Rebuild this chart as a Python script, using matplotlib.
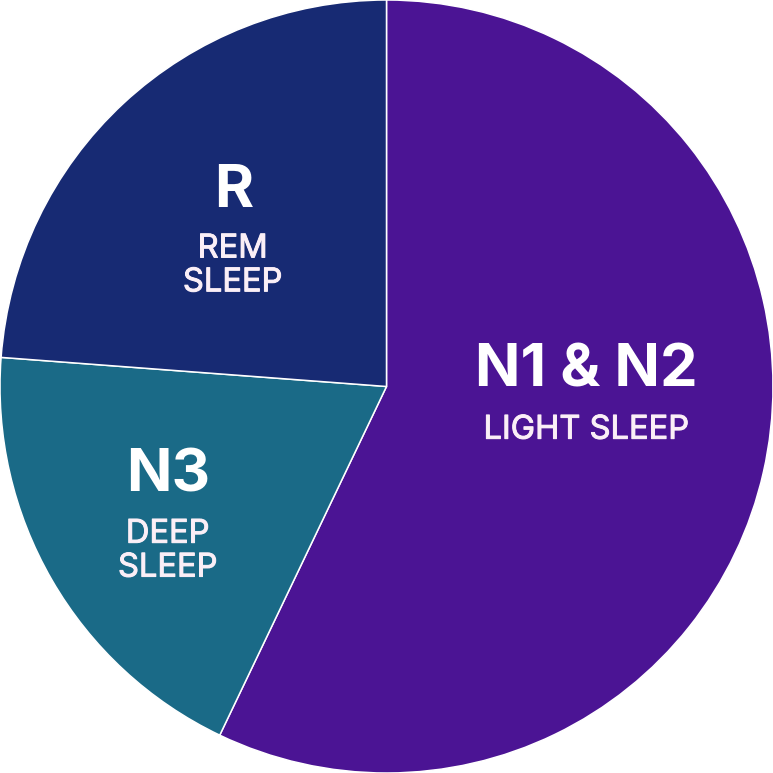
import matplotlib
matplotlib.use("Agg")
import matplotlib.pyplot as plt
import matplotlib.patheffects as pe

# sleep stage shares (percent), clockwise from 12 o'clock
stages = ["N1 & N2", "N3", "R"]
subtitles = ["LIGHT SLEEP", "DEEP\nSLEEP", "REM\nSLEEP"]
shares = [57.1, 19.1, 23.8]
colors = ["#4b1494", "#1a6a87", "#172a73"]

# label anchor (centre of title / subtitle) in axes data units, radius = 1
title_pos = [(0.518, 0.040), (-0.565, -0.232), (-0.396, 0.505)]
sub_pos = [(0.517, -0.113), (-0.566, -0.426), (-0.398, 0.312)]

plt.rcParams["font.family"] = ["Inter", "DejaVu Sans"]

fig = plt.figure(figsize=(7.73, 7.73), dpi=100)
ax = fig.add_axes([0, 0, 1, 1])
ax.pie(
    shares,
    colors=colors,
    startangle=90,
    counterclock=False,
    radius=1.0,
    wedgeprops=dict(edgecolor="white", linewidth=1.1),
)
ax.set_xlim(-1, 1)
ax.set_ylim(-1, 1)
ax.set_aspect("equal")
ax.axis("off")

sub_color = "#fbeff7"
# thin outline in the text colour makes the regular face read as medium
medium = [pe.withStroke(linewidth=0.7, foreground=sub_color)]

for name, sub, tp, sp in zip(stages, subtitles, title_pos, sub_pos):
    ax.text(*tp, name, ha="center", va="center", color="white",
            fontsize=43, fontweight="bold")
    ax.text(*sp, sub, ha="center", va="center", color=sub_color,
            fontsize=23.5, linespacing=1.12, path_effects=medium)

fig.savefig("out.png", dpi=100)
